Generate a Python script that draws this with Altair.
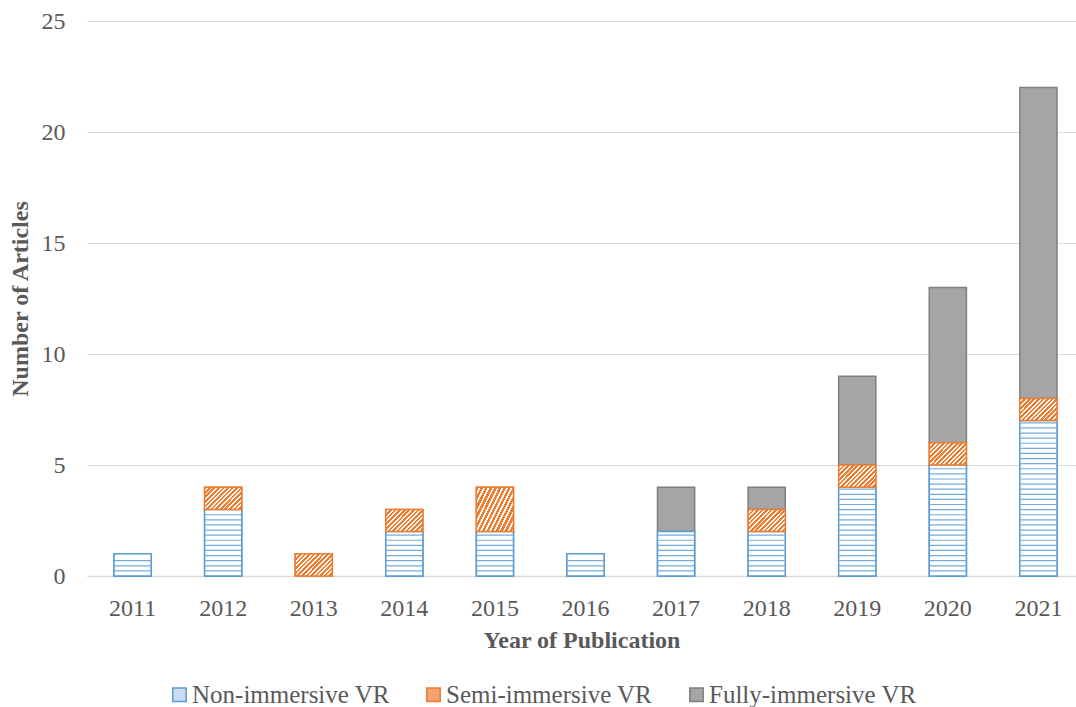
import altair as alt
import pandas as pd

# Articles per publication year, split by type of virtual reality
years = ["2011", "2012", "2013", "2014", "2015", "2016",
         "2017", "2018", "2019", "2020", "2021"]
non_immersive = [1, 3, 0, 2, 2, 1, 2, 2, 4, 5, 7]
semi_immersive = [0, 1, 1, 1, 2, 0, 0, 1, 1, 1, 1]
fully_immersive = [0, 0, 0, 0, 0, 0, 2, 1, 4, 7, 14]
series_names = ["Non-immersive VR", "Semi-immersive VR", "Fully-immersive VR"]

BLUE = "#5b9bd5"
ORANGE = "#ed7d31"
GRAY_FILL = "#a5a5a5"
GRAY_EDGE = "#7f7f7f"
TEXT = "#595959"
GRID = "#d9d9d9"
FONT = "Liberation Serif"

# stacked segments (bottom to top: non, semi, fully)
rows = []
for i, yr in enumerate(years):
    base = 0
    for name, vals in zip(series_names, [non_immersive, semi_immersive, fully_immersive]):
        v = vals[i]
        if v > 0:
            rows.append({"year": yr, "series": name, "count": v,
                         "y0": base, "y1": base + v})
        base += v
segments = pd.DataFrame(rows)
non_seg = segments[segments.series == series_names[0]]
semi_seg = segments[segments.series == series_names[1]]

# horizontal-line fill pattern for the non-immersive segments
STRIPE_STEP = 0.23
stripe_rows = []
for _, r in non_seg.iterrows():
    k = 1
    while k * STRIPE_STEP < r["y1"] - 0.08:
        stripe_rows.append({"year": r["year"], "pos": r["y0"] + k * STRIPE_STEP})
        k += 1
stripes = pd.DataFrame(stripe_rows)

# diagonal hatch for the semi-immersive segments
N_HATCH = 13
stops = []
for i in range(N_HATCH):
    stops.append(alt.GradientStop(color=ORANGE, offset=i / N_HATCH))
    stops.append(alt.GradientStop(color=ORANGE, offset=(i + 0.58) / N_HATCH))
    stops.append(alt.GradientStop(color="#ffffff", offset=(i + 0.58) / N_HATCH))
    stops.append(alt.GradientStop(color="#ffffff", offset=(i + 1) / N_HATCH))
hatch = alt.Gradient(gradient="linear", stops=stops, x1=0, y1=0, x2=1.18, y2=0.7)

x_enc = alt.X(
    "year:N",
    sort=years,
    scale=alt.Scale(domain=years, paddingInner=0.59, paddingOuter=0.254, align=0.587),
    axis=alt.Axis(title="Year of Publication", labelAngle=0),
)
y_axis = alt.Axis(title="Number of Articles", values=[0, 5, 10, 15, 20, 25])
y_scale = alt.Scale(domain=[0, 25], nice=False)

legend = alt.Legend(
    title=None,
    orient="none",
    legendX=80,
    legendY=661,
    direction="horizontal",
)

base_bars = alt.Chart(segments).mark_bar(strokeWidth=1.5).encode(
    x=x_enc,
    y=alt.Y("y1:Q", scale=y_scale, axis=y_axis),
    y2="y0:Q",
    fill=alt.Fill("series:N",
                  scale=alt.Scale(domain=series_names,
                                  range=["#c9dcf0", "#f2a36e", GRAY_FILL]),
                  legend=legend),
    stroke=alt.Stroke("series:N",
                      scale=alt.Scale(domain=series_names,
                                      range=[BLUE, ORANGE, GRAY_EDGE]),
                      legend=legend),
)

non_bars = alt.Chart(non_seg).mark_bar(fill="#ffffff", stroke=BLUE, strokeWidth=1.5).encode(
    x=x_enc,
    y=alt.Y("y1:Q", scale=y_scale, axis=y_axis),
    y2="y0:Q",
)

stripe_ticks = alt.Chart(stripes).mark_tick(
    orient="horizontal", size=36, thickness=1.2, color=BLUE, opacity=0.85
).encode(
    x=x_enc,
    y=alt.Y("pos:Q", scale=y_scale, axis=y_axis),
)

semi_bars = alt.Chart(semi_seg).mark_bar(fill=hatch, stroke=ORANGE, strokeWidth=1.5).encode(
    x=x_enc,
    y=alt.Y("y1:Q", scale=y_scale, axis=y_axis),
    y2="y0:Q",
)

chart = alt.layer(base_bars, non_bars, stripe_ticks, semi_bars).properties(
    width=989,
    height=555,
    padding={"left": 87, "top": 21, "right": 0, "bottom": 131},
    autosize="none",
).configure_view(stroke=None).configure_axis(
    labelFont=FONT,
    labelFontSize=24,
    labelColor=TEXT,
    titleFont=FONT,
    titleFontSize=24,
    titleFontWeight="bold",
    titleColor=TEXT,
    ticks=False,
    gridColor=GRID,
    gridWidth=1,
    domainColor=GRID,
    domainWidth=1.5,
).configure_axisX(
    grid=False,
    labelPadding=20,
    titlePadding=8,
).configure_axisY(
    domain=False,
    labelPadding=22,
    titlePadding=9,
).configure_legend(
    symbolType="square",
    symbolSize=180,
    symbolStrokeWidth=1.5,
    labelFont=FONT,
    labelFontSize=25,
    labelColor=TEXT,
    labelOffset=0,
    labelLimit=500,
    columnPadding=31,
    padding=0,
)

chart.save("out.html", embed_options={"renderer": "svg", "actions": False})
